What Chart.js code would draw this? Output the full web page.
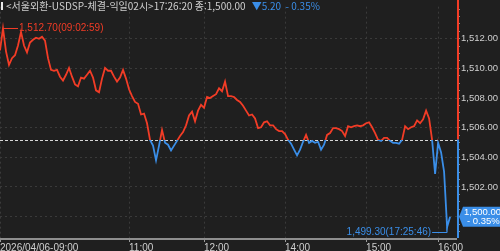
<!DOCTYPE html>
<html lang="ko">
<head>
<meta charset="UTF-8">
<title>서울외환 USDSP 체결</title>
<script src="https://cdn.jsdelivr.net/npm/chart.js"></script>
<style>
  html, body { margin: 0; padding: 0; background: #1f1f1f; }
  #wrap { width: 500px; height: 251px; position: relative; }
</style>
</head>
<body>
<div id="wrap"><canvas id="fxChart"></canvas></div>
<script>
// 체결가 (index 순서, 09:00 ~ 17:26)
const prices = [
  1511.21, 1512.70, 1511.15, 1510.23, 1510.69, 1510.89, 1511.54, 1512.46, 1511.54, 1511.08,
  1511.74, 1511.93, 1512.07, 1512.00, 1512.13, 1511.87, 1510.69, 1509.90, 1509.84, 1509.90,
  1509.44, 1509.18, 1509.57, 1510.03, 1509.44, 1508.92, 1508.79, 1509.38, 1509.31, 1509.57,
  1509.84, 1509.38, 1508.52, 1508.39, 1509.31, 1510.03, 1509.84, 1509.84, 1509.44, 1509.11,
  1509.38, 1509.90, 1509.31, 1508.59, 1508.13, 1507.74, 1507.61, 1506.89, 1506.95, 1506.30,
  1505.18, 1504.79, 1503.80, 1504.79, 1505.84, 1504.98, 1504.85, 1504.46, 1504.79, 1505.11,
  1505.44, 1505.70, 1506.16, 1506.82, 1507.08, 1506.43, 1507.15, 1507.54, 1507.34, 1508.07,
  1508.00, 1508.13, 1508.26, 1508.66, 1508.46, 1509.11, 1508.13, 1508.13, 1508.07, 1507.87,
  1507.74, 1507.48, 1507.15, 1506.82, 1506.89, 1506.62, 1505.97, 1506.03, 1506.36, 1506.43,
  1506.16, 1506.16, 1505.90, 1505.77, 1505.77, 1505.57, 1505.18, 1504.92, 1504.52, 1504.13,
  1504.52, 1505.05, 1505.51, 1504.98, 1505.11, 1504.98, 1505.05, 1504.52, 1504.85, 1505.51,
  1505.64, 1505.97, 1505.97, 1505.90, 1505.77, 1505.44, 1506.10, 1506.03, 1506.10, 1506.16,
  1506.10, 1506.16, 1506.30, 1506.36, 1506.03, 1505.64, 1505.18, 1505.11, 1505.31, 1505.31,
  1505.11, 1504.98, 1504.98, 1504.92, 1505.18, 1506.10, 1505.90, 1506.03, 1506.10, 1506.49,
  1506.30, 1506.56, 1507.15, 1506.62, 1505.18, 1502.89, 1504.98, 1504.33, 1503.02, 1499.30,
  1500.00
];
const tickIndex = [0, 43, 68, 95, 122, 146];
const tickLabels = ['2026/04/06-09:00', '11:00', '12:00', '14:00', '15:00', '16:00'];
const yLabelValues = [1500, 1502, 1504, 1506, 1508, 1510, 1512];

const prevClose = 1505.20;
const lastPrice = 1500.00;
const highTime = '09:02:59';
const lowTime = '17:25:46';
const headerText = '<서울외환-USDSP-체결-익일02시>17:26:20 종:1,500.00';
const changeText = '▼5.20  - 0.35%';
const changePct = '- 0.35%';

const RED = '#f23c26';
const BLUE = '#3a8ee8';
const TXT = '#cfcfcf';
const GRID = '#3a3a3a';

const fmt = v => v.toLocaleString('en-US', { minimumFractionDigits: 2, maximumFractionDigits: 2 });
const isMajor = v => yLabelValues.some(m => Math.abs(m - v) < 1e-6);

const overlay = {
  id: 'overlay',
  beforeDatasetsDraw(chart) {
    const { ctx, chartArea: a, scales: { y } } = chart;
    const by = Math.round(y.getPixelForValue(prevClose)) + 0.5;
    ctx.save();
    ctx.strokeStyle = '#d6d6d6';
    ctx.lineWidth = 1;
    ctx.setLineDash([3, 2]);
    ctx.beginPath();
    ctx.moveTo(a.left, by);
    ctx.lineTo(a.right, by);
    ctx.stroke();
    ctx.restore();
  },
  afterDraw(chart) {
    const { ctx, chartArea: a, scales: { x, y } } = chart;
    const by = y.getPixelForValue(prevClose);
    ctx.save();

    // x axis line
    ctx.fillStyle = '#8e8e8e';
    ctx.fillRect(a.left, a.bottom, a.right - a.left, 2);

    // right axis line, red above prev close, blue below
    ctx.fillStyle = RED;
    ctx.fillRect(a.right, 0, 2, by);
    ctx.fillStyle = BLUE;
    ctx.fillRect(a.right, by, 2, a.bottom - by);

    // header
    ctx.font = '10px "Noto Sans CJK KR"';
    ctx.textBaseline = 'middle';
    ctx.textAlign = 'left';
    ctx.fillStyle = '#e8e8e8';
    ctx.fillRect(1, 2, 2, 8);
    ctx.fillStyle = TXT;
    ctx.fillText(headerText, 6, 6);
    const hw = ctx.measureText(headerText).width;
    ctx.fillStyle = BLUE;
    ctx.fillText(changeText, 6 + hw + 6, 6);

    // high annotation
    ctx.font = '10px "Liberation Sans"';
    let hi = 0, lo = 0;
    prices.forEach((v, i) => { if (v > prices[hi]) hi = i; if (v < prices[lo]) lo = i; });
    const hx = x.getPixelForValue(hi), hy = Math.round(y.getPixelForValue(prices[hi])) + 0.5;
    ctx.strokeStyle = RED;
    ctx.lineWidth = 1;
    ctx.beginPath();
    ctx.moveTo(hx, hy + 3);
    ctx.lineTo(hx, hy);
    ctx.lineTo(hx + 15, hy);
    ctx.stroke();
    ctx.fillStyle = RED;
    ctx.fillText(fmt(prices[hi]) + '(' + highTime + ')', hx + 16, hy);

    // low annotation
    const lx = x.getPixelForValue(lo), ly = y.getPixelForValue(prices[lo]);
    const ty = Math.round(ly + 5) + 0.5;
    ctx.strokeStyle = BLUE;
    ctx.beginPath();
    ctx.moveTo(lx, ly);
    ctx.lineTo(lx, ty);
    ctx.lineTo(lx - 15, ty);
    ctx.stroke();
    ctx.fillStyle = BLUE;
    ctx.textAlign = 'right';
    ctx.fillText(fmt(prices[lo]) + '(' + lowTime + ')', lx - 16, ty);

    // current price tag
    const py = y.getPixelForValue(lastPrice);
    ctx.fillStyle = BLUE;
    ctx.beginPath();
    ctx.moveTo(a.right + 2, py);
    ctx.lineTo(a.right + 6, py - 10);
    ctx.lineTo(chart.width, py - 10);
    ctx.lineTo(chart.width, py + 10);
    ctx.lineTo(a.right + 6, py + 10);
    ctx.closePath();
    ctx.fill();
    ctx.fillStyle = '#ffffff';
    ctx.font = '9.5px "Liberation Sans"';
    ctx.textAlign = 'left';
    ctx.fillText(fmt(lastPrice), a.right + 7, py - 4.5);
    ctx.fillText(changePct, a.right + 10, py + 5);
    ctx.restore();
  }
};

const ctx = document.getElementById('fxChart').getContext('2d');
new Chart(ctx, {
  type: 'line',
  data: {
    labels: prices.map((_, i) => i),
    datasets: [{
      data: prices,
      borderWidth: 1.8,
      pointRadius: 0,
      tension: 0,
      borderColor(c) {
        const chart = c.chart;
        const a = chart.chartArea;
        if (!a) return RED;
        let stop = (chart.scales.y.getPixelForValue(prevClose) - a.top) / (a.bottom - a.top);
        stop = Math.min(1, Math.max(0, stop));
        const g = chart.ctx.createLinearGradient(0, a.top, 0, a.bottom);
        g.addColorStop(0, RED);
        g.addColorStop(stop, RED);
        g.addColorStop(stop, BLUE);
        g.addColorStop(1, BLUE);
        return g;
      }
    }]
  },
  options: {
    responsive: true,
    maintainAspectRatio: false,
    animation: false,
    layout: { padding: 0 },
    plugins: { legend: { display: false }, tooltip: { enabled: false } },
    scales: {
      x: {
        type: 'linear',
        min: 0,
        max: 152.3,
        afterBuildTicks: s => { s.ticks = tickIndex.map(v => ({ value: v })); },
        afterFit: s => { s.height = 13; },
        ticks: {
          autoSkip: false,
          maxRotation: 0,
          align: 'start',
          padding: 0,
          color: TXT,
          font: { size: 10, family: 'Liberation Sans' },
          callback: (v, i) => tickLabels[i]
        },
        grid: { color: GRID, tickColor: '#9a9a9a', tickLength: 4 },
        border: { display: false, dash: [2, 3] }
      },
      y: {
        type: 'linear',
        position: 'right',
        min: 1498.56,
        max: 1514.16,
        afterBuildTicks: s => {
          const t = [];
          for (let v = 1499; v <= 1514; v += 0.5) t.push({ value: v });
          s.ticks = t;
        },
        afterFit: s => { s.width = 43; },
        ticks: {
          autoSkip: false,
          padding: 1,
          color: TXT,
          font: { size: 9.5, family: 'Liberation Sans' },
          callback: v => isMajor(v) ? fmt(v) : ''
        },
        grid: {
          color: c => (c.tick && isMajor(c.tick.value)) ? GRID : 'rgba(0,0,0,0)',
          tickColor: '#8a8a8a',
          tickLength: 3
        },
        border: { display: false, dash: [2, 3] }
      }
    }
  },
  plugins: [overlay]
});
</script>
</body>
</html>
